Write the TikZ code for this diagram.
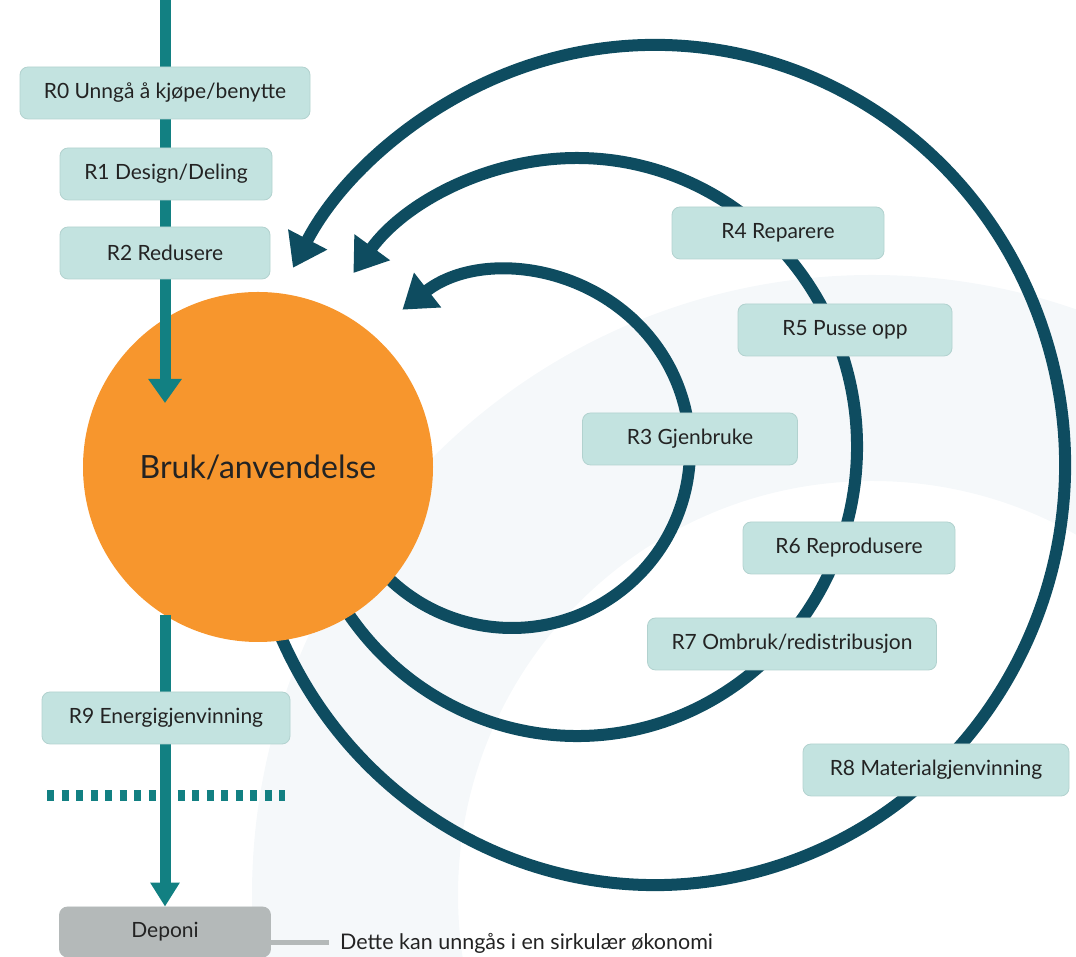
\documentclass[tikz,border=0pt]{standalone}
\usepackage{fontspec}
\setmainfont{Lato}
\usepackage{tikz}
\usetikzlibrary{arrows.meta}
\definecolor{rteal}{RGB}{18,128,130}
\definecolor{rdark}{RGB}{14,76,96}
\definecolor{rorange}{RGB}{247,150,45}
\definecolor{rboxfill}{RGB}{195,227,224}
\definecolor{rboxline}{RGB}{178,210,207}
\definecolor{rgrey}{RGB}{180,185,185}
\definecolor{rring}{RGB}{245,248,250}
\definecolor{rtext}{RGB}{35,35,35}

\tikzset{
  rbox/.style={fill=rboxfill,draw=rboxline,line width=0.8pt,rounded corners=8pt,
    minimum height=52pt,inner sep=0pt,text=rtext,font=\fontsize{21}{25}\selectfont},
  backloop/.style={draw=rdark,line width=12pt,-{Triangle[length=32pt,width=42pt]}},
  flow/.style={draw=rteal,line width=11pt}
}

\begin{document}
\begin{tikzpicture}[x=1pt,y=1pt]
\useasboundingbox (0,0) rectangle (1076,957);
% light ring behind everything
\begin{scope}
\clip (0,0) rectangle (1076,957);
\fill[rring,even odd rule] (872,62) circle[radius=620] (872,62) circle[radius=414];
\end{scope}

% the three loops back to use
\coordinate (c3) at (512,507);
\coordinate (c7) at (577,510);
\coordinate (c8) at (655,492);
\draw[backloop] (c8) ++(200:410 and 420) arc[start angle=200,end angle=512,x radius=410,y radius=420];
\draw[backloop] (c7) ++(212:280 and 289) arc[start angle=212,end angle=503,x radius=280,y radius=289];
\draw[backloop] (c3) ++(222:178) arc[start angle=222,end angle=488,radius=178];

\node[circle,fill=rorange,minimum size=350pt,inner sep=0pt,text=rtext,
  font=\fontsize{32}{38}\selectfont] (bruk) at (258,490) {Bruk/anvendelse};

% straight line down the left side
\coordinate (inn) at (165,957);
\coordinate (inflow) at (165,554);
\coordinate (outflow) at (165,342);
\draw[flow,-{Triangle[length=24pt,width=32pt]}] (inn) -- (inflow);

\node[rbox,minimum width=211pt,minimum height=50pt,fill=rgrey,draw=rgrey] (deponi) at (165,25) {Deponi};
\draw[flow,-{Triangle[length=24pt,width=28pt]}] (outflow) -- (deponi.north);
\draw[rteal,line width=11pt,dash pattern=on 7pt off 7.5pt] (47,161) -- (285,161);

\node[rbox,minimum width=290pt] (r0) at (165,864) {R0 Unngå å kjøpe/benytte};
\node[rbox,minimum width=212pt] (r1) at (166,783) {R1 Design/Deling};
\node[rbox,minimum width=210pt] (r2) at (165,704) {R2 Redusere};
\node[rbox,minimum width=215pt] (r3) at (690,518) {R3 Gjenbruke};
\node[rbox,minimum width=212pt] (r4) at (778,724) {R4 Reparere};
\node[rbox,minimum width=214pt] (r5) at (845,627) {R5 Pusse opp};
\node[rbox,minimum width=212pt] (r6) at (849,409) {R6 Reprodusere};
\node[rbox,minimum width=289pt] (r7) at (792,313) {R7 Ombruk/redistribusjon};
\node[rbox,minimum width=266pt] (r8) at (936,187) {R8 Materialgjenvinning};
\node[rbox,minimum width=248pt] (r9) at (166,239) {R9 Energigjenvinning};

\node[anchor=west,inner sep=0pt,text=rtext,font=\fontsize{21.5}{25}\selectfont] (note) at (340,14) {Dette kan unngås i en sirkulær økonomi};
\draw[rgrey,line width=5pt] (deponi.east |- note.west) -- ([xshift=-11pt]note.west);
\end{tikzpicture}
\end{document}
